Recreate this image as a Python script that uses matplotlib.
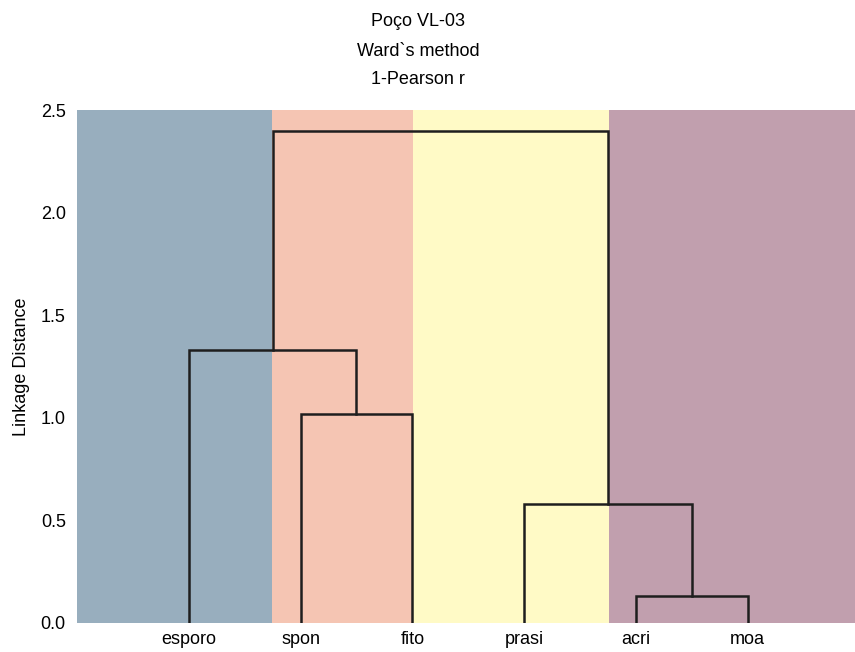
import matplotlib.pyplot as plt

plt.rcParams['font.family'] = ['Liberation Sans', 'DejaVu Sans']
plt.rcParams['font.size'] = 13

# leaves in dendrogram order
labels = ['esporo', 'spon', 'fito', 'prasi', 'acri', 'moa']
# merges: (child a, child b, distance); new clusters numbered after the leaves
merges = [
    (1, 2, 1.02),   # spon + fito   -> 6
    (4, 5, 0.13),   # acri + moa    -> 7
    (0, 6, 1.33),   # esporo + 6    -> 8
    (3, 7, 0.58),   # prasi + 7     -> 9
    (8, 9, 2.40),   # 8 + 9         -> 10
]
# colored groups along x (boundaries in leaf units)
group_edges = [0, 1.745, 3.005, 4.76, 7]
group_colors = ['#98aebe', '#f5c5b3', '#fffac6', '#c19fae']

fig = plt.figure(figsize=(8.55, 6.52), dpi=100)
ax = fig.add_axes([0.090, 0.0445, 0.910, 0.7865])

for i, c in enumerate(group_colors):
    ax.axvspan(group_edges[i], group_edges[i + 1], color=c, lw=0, zorder=0)

xpos = {i: i + 1 for i in range(len(labels))}
ypos = {i: 0.0 for i in range(len(labels))}
for k, (a, b, d) in enumerate(merges):
    xa, xb = xpos[a], xpos[b]
    ax.plot([xa, xa, xb, xb], [ypos[a], d, d, ypos[b]], color='#1e1e1e', lw=1.8,
            solid_joinstyle='miter', zorder=2)
    node = len(labels) + k
    xpos[node] = (xa + xb) / 2
    ypos[node] = d

ax.set_xlim(0, 6.96)
ax.set_ylim(0, 2.5)
ax.set_xticks(range(1, len(labels) + 1))
ax.set_xticklabels(labels)
ax.set_yticks([0, 0.5, 1.0, 1.5, 2.0, 2.5])
ax.set_yticklabels(['0.0', '0.5', '1.0', '1.5', '2.0', '2.5'])
ax.tick_params(axis='y', length=0, pad=8)
ax.tick_params(axis='x', length=0, pad=6)
ax.set_ylabel('Linkage Distance', labelpad=8)
for s in ax.spines.values():
    s.set_visible(False)

fig.text(0.489, 1 - 22 / 652, 'Poço VL-03', ha='center', va='center')
fig.text(0.489, 1 - 51 / 652, 'Ward`s method', ha='center', va='center')
fig.text(0.489, 1 - 79 / 652, '1-Pearson r', ha='center', va='center')

fig.savefig('out.png', dpi=100)
